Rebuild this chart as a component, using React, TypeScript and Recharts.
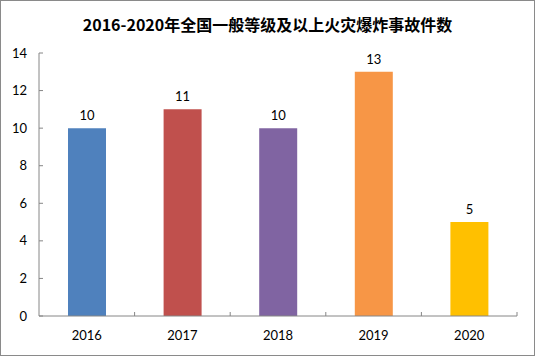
import React from 'react';
import { BarChart, Bar, XAxis, YAxis, LabelList, Cell } from 'recharts';

const years = ['2016', '2017', '2018', '2019', '2020'];
const counts = [10, 11, 10, 13, 5];
const colors = ['#4F81BD', '#C0504D', '#8064A2', '#F79646', '#FFC000'];
const yTicks = [0, 2, 4, 6, 8, 10, 12, 14];

const data = years.map((y, i) => ({ year: y, count: counts[i] }));

const font = 'Lato, "Noto Sans", sans-serif';
const X_TICK_MARGIN = 15;

function XTick(props: any) {
  const { x, y, payload, index, visibleTicksCount } = props;
  const off = payload && payload.offset ? payload.offset : 0;
  const axisY = y - X_TICK_MARGIN;
  const isLast = index === visibleTicksCount - 1;
  return (
    <g>
      {index > 0 && (
        <line x1={x - off} x2={x - off} y1={axisY} y2={axisY - 4} stroke="#868686" />
      )}
      {isLast && (
        <line x1={x + off} x2={x + off} y1={axisY} y2={axisY - 4} stroke="#868686" />
      )}
      <text
        x={x}
        y={y}
        dy="0.71em"
        textAnchor="middle"
        fill="#000"
        fontSize={13}
        fontFamily={font}
      >
        {payload.value}
      </text>
    </g>
  );
}

export default function App() {
  return (
    <div
      style={{
        position: 'absolute',
        left: 0,
        top: 0,
        width: 535,
        height: 356,
        boxSizing: 'border-box',
        border: '1px solid #8a8a8a',
        background: '#fff',
      }}
    >
      <div
        style={{
          position: 'absolute',
          left: 0,
          top: 12,
          width: 533,
          textAlign: 'center',
          fontFamily: '"Noto Sans CJK SC", sans-serif',
          fontWeight: 'bold',
          fontSize: 16,
          color: '#000',
          lineHeight: '22px',
        }}
      >
        2016-2020年全国一般等级及以上火灾爆炸事故件数
      </div>
      <div style={{ position: 'absolute', left: -1, top: -1 }}>
        <BarChart
          width={535}
          height={356}
          data={data}
          margin={{ top: 53, right: 18, left: 0, bottom: 10 }}
        >
          <XAxis
            dataKey="year"
            height={30}
            axisLine={{ stroke: '#868686' }}
            tickLine={false}
            tickSize={0}
            tickMargin={X_TICK_MARGIN}
            tick={<XTick />}
            interval={0}
          />
          <YAxis
            width={39}
            domain={[0, 14]}
            ticks={yTicks}
            axisLine={{ stroke: '#868686' }}
            tickLine={{ stroke: '#868686' }}
            tickSize={-4}
            tickMargin={16}
            tick={{ fill: '#000', fontSize: 13, fontFamily: font }}
          />
          <Bar dataKey="count" barSize={38} isAnimationActive={false}>
            {data.map((d, i) => (
              <Cell key={d.year} fill={colors[i]} />
            ))}
            <LabelList
              dataKey="count"
              position="top"
              offset={8}
              style={{ fill: '#000', fontSize: 13, fontFamily: font }}
            />
          </Bar>
        </BarChart>
      </div>
    </div>
  );
}
